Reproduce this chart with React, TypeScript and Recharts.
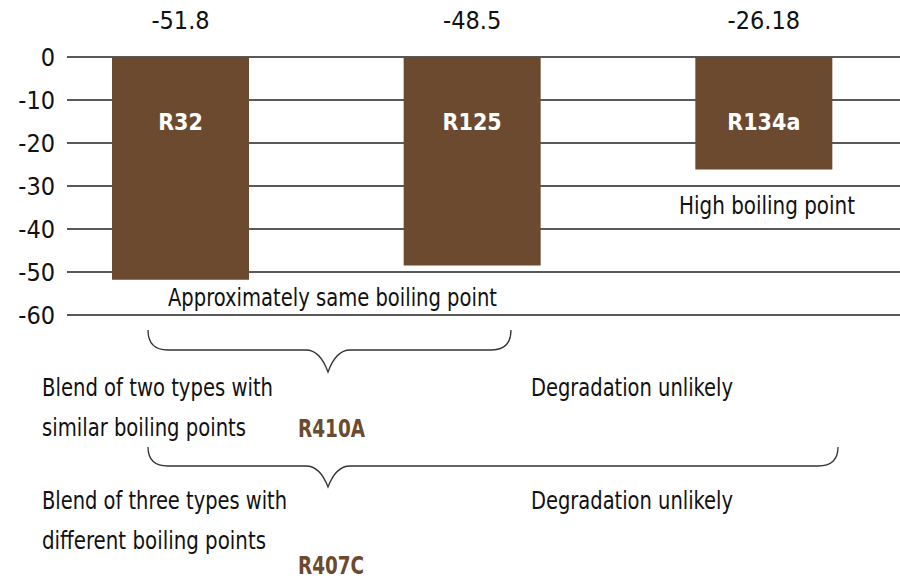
import React from 'react';
import { BarChart, Bar, XAxis, YAxis, CartesianGrid, LabelList } from 'recharts';

// refrigerant boiling points (°C)
const refrigerants = ['R32', 'R125', 'R134a'];
const boilingPoints = [-51.8, -48.5, -26.18];
const valueLabels = ['-51.8', '-48.5', '-26.18'];
const yTicks = [0, -10, -20, -30, -40, -50, -60];

const data = refrigerants.map((name, i) => ({ name, value: boilingPoints[i], label: valueLabels[i] }));

const FONT = '"Liberation Sans Narrow", "DejaVu Sans Condensed", sans-serif';
const BROWN = '#6B4A2F';

const ValueLabel = (props: any) => {
  const { x, width, index } = props;
  return (
    <text x={x + width / 2} y={20} textAnchor="middle" dominantBaseline="central" fontSize={25} fill="#111" fontFamily={FONT}>
      {data[index].label}
    </text>
  );
};

const NameLabel = (props: any) => {
  const { x, y, width, height, value } = props;
  const top = Math.min(y, y + height);
  return (
    <text x={x + width / 2} y={top + 65} textAnchor="middle" dominantBaseline="central" fontSize={23} fontWeight="bold" fill="#fff" fontFamily={FONT}>
      {value}
    </text>
  );
};

const Brace = ({ x1, x2, tip, top, mid, bottom }: any) => (
  <path
    d={`M${x1},${top} Q${x1},${mid} ${x1 + 20},${mid} L${tip - 22},${mid} Q${tip - 8},${mid} ${tip},${bottom} Q${tip + 8},${mid} ${tip + 22},${mid} L${x2 - 20},${mid} Q${x2},${mid} ${x2},${top}`}
    fill="none"
    stroke="#333"
    strokeWidth={1.3}
  />
);

// annotation text squeezed to the narrow look of the original
const Note = ({ x, y, w, children, brown }: any) => (
  <text
    x={x}
    y={y}
    dominantBaseline="central"
    textLength={w}
    lengthAdjust="spacingAndGlyphs"
    fontFamily={FONT}
    fontSize={25}
    fontWeight={brown ? 'bold' : 'normal'}
    fill={brown ? BROWN : '#111'}
  >
    {children}
  </text>
);

export default function App() {
  return (
    <div style={{ position: 'absolute', left: 0, top: 0, width: 900, height: 585, background: '#fff' }}>
      <BarChart width={900} height={585} data={data} margin={{ top: 57, right: 0, left: 0, bottom: 270 }}>
        <CartesianGrid vertical={false} stroke="#222" strokeWidth={1.3} />
        <XAxis dataKey="name" hide padding={{ left: -32, right: -10 }} />
        <YAxis
          width={67}
          domain={[-60, 0]}
          ticks={yTicks}
          axisLine={false}
          tickLine={false}
          tickSize={0}
          tickMargin={12}
          tick={{ fontSize: 25, fill: '#111', fontFamily: FONT }}
        />
        <Bar dataKey="value" fill={BROWN} barSize={137} isAnimationActive={false}>
          <LabelList dataKey="value" content={<ValueLabel />} />
          <LabelList dataKey="name" content={<NameLabel />} />
        </Bar>
      </BarChart>
      <svg width={900} height={585} style={{ position: 'absolute', left: 0, top: 0, pointerEvents: 'none' }}>
        <Note x={168} y={297} w={329}>Approximately same boiling point</Note>
        <Note x={679} y={205} w={176}>High boiling point</Note>
        <Brace x1={148} x2={511} tip={328} top={330} mid={350} bottom={372} />
        <Note x={42} y={387} w={231}>Blend of two types with</Note>
        <Note x={42} y={427} w={204}>similar boiling points</Note>
        <Note x={298} y={428} w={67} brown>R410A</Note>
        <Note x={531} y={387} w={202}>Degradation unlikely</Note>
        <Brace x1={148} x2={838} tip={328} top={447} mid={466} bottom={487} />
        <Note x={42} y={500} w={245}>Blend of three types with</Note>
        <Note x={42} y={540} w={224}>different boiling points</Note>
        <Note x={298} y={565} w={66} brown>R407C</Note>
        <Note x={531} y={500} w={202}>Degradation unlikely</Note>
      </svg>
    </div>
  );
}
